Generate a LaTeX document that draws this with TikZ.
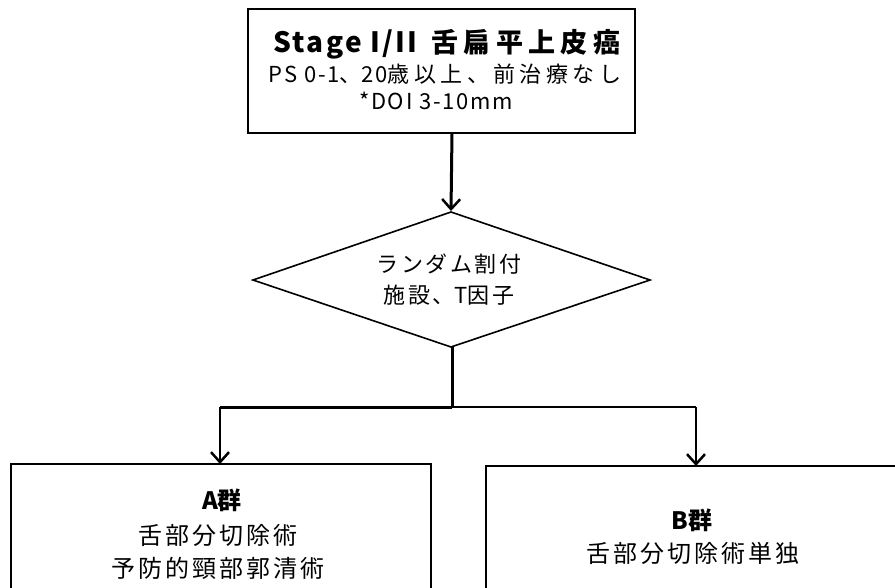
\documentclass[tikz,border=0pt]{standalone}
\usepackage{fontspec}
\setmainfont{Noto Sans CJK JP}
\newfontfamily\jp[LetterSpace=12]{Noto Sans CJK JP}
\newfontfamily\jpw[LetterSpace=20]{Noto Sans CJK JP}
\newfontfamily\lt{Noto Sans CJK JP}
\newfontfamily\ltw[LetterSpace=8]{Noto Sans CJK JP}
\usetikzlibrary{arrows.meta,shapes.geometric}
\tikzset{
  box/.style={draw, line width=1.6pt},
  thick/.style={line width=3pt},
  thin/.style={line width=1.3pt},
  vhead/.style={-{Straight Barb[length=10pt,width=18pt,line width=2.5pt]}},
  lbl/.style={inner sep=0pt, anchor=center, font=\jp},
}
\begin{document}
\begin{tikzpicture}[x=1pt,y=-1pt]
\clip (0,0) rectangle (895,588);
\fill[white] (0,0) rectangle (895,588);
% top box
\draw[box] (248,9) rectangle (635,133);
\node[lbl, font=\fontsize{27}{27}\selectfont\bfseries] (t1) at (447,44) {{\ltw\fontsize{28}{28}\selectfont\bfseries Stage I/II}\hspace{14pt}{\jpw 舌扁平上皮癌}};
\node[lbl, font=\fontsize{22}{22}\selectfont] (t2) at (445,74) {{\ltw PS 0-1}{\jpw 、}{\ltw 20}{\jpw 歳以上、前治療なし}};
\node[lbl, font=\fontsize{22}{22}\selectfont] (t3) at (436,101) {\ltw *DOI 3-10mm};
\coordinate (topbot) at (452,133);
% diamond
\draw[box] (253,280) -- (451,212) -- (650,280) -- (451,347) -- cycle;
\coordinate (dtop) at (451,211);
\coordinate (dbot) at (452,347);
\node[lbl, font=\jp\fontsize{22}{22}\selectfont] (d1) at (449,264) {ランダム割付};
\node[lbl, font=\jp\fontsize{22}{22}\selectfont] (d2) at (449,295) {施設、{\lt T}因子};
% connectors
\draw[thick, vhead] (topbot) -- (dtop);
\coordinate (j) at (452,407);
\coordinate (la) at (220,407);
\coordinate (rb) at (696,407);
\draw[thick] (dbot) -- (j);
\draw[thick] (j) -- (la);
\draw[thin] (j) -- (rb);
\coordinate (atop) at (220,464);
\coordinate (btop) at (696,466);
\draw[thin, vhead] (la) -- (atop);
\draw[thin, vhead] (rb) -- (btop);
% A box
\draw[box] (11,464) rectangle (431,620);
\node[lbl, font=\fontsize{24}{24}\selectfont\bfseries] (a1) at (222,500) {{\lt A}{\jp 群}};
\node[lbl, font=\jp\fontsize{24}{24}\selectfont] (a2) at (218,535) {舌部分切除術};
\node[lbl, font=\jp\fontsize{24}{24}\selectfont] (a3) at (218,568) {予防的頸部郭清術};
% B box
\draw[box] (486,466) rectangle (920,620);
\node[lbl, font=\fontsize{24}{24}\selectfont\bfseries] (b1) at (692,520) {{\lt B}{\jp 群}};
\node[lbl, font=\jp\fontsize{24}{24}\selectfont] (b2) at (693,553) {舌部分切除術単独};
\end{tikzpicture}
\end{document}
